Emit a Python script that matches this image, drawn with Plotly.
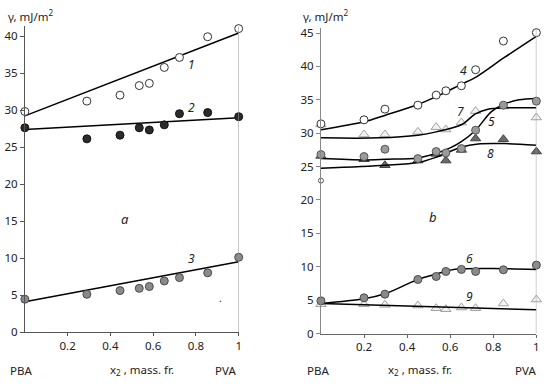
import plotly.graph_objects as go

# ---------------- data: panel a ----------------
xa = [0, 0.29, 0.445, 0.535, 0.582, 0.652, 0.723, 0.855, 1]
s1 = [29.8, 31.2, 32.0, 33.3, 33.6, 35.75, 37.1, 39.9, 41.0]
s2 = [27.6, 26.1, 26.6, 27.6, 27.3, 28.0, 29.5, 29.65, 29.1]
s3 = [4.43, 5.1, 5.6, 5.9, 6.15, 6.9, 7.35, 8.0, 10.1]
line_x = [0, 1]
line1 = [29.2, 40.4]
line2 = [27.35, 28.95]
line3 = [4.1, 9.5]

# ---------------- data: panel b ----------------
xb = [0, 0.2, 0.297, 0.45, 0.535, 0.58, 0.652, 0.718, 0.847, 1]
s4 = [31.4, 32.0, 33.6, 34.2, 35.7, 36.35, 37.1, 39.5, 43.8, 45.05]
s5 = [26.8, 26.5, 27.6, 26.2, 27.25, 27.05, 27.7, 30.45, 34.2, 34.8]
s6 = [4.9, 5.35, 5.9, 8.1, 8.55, 9.3, 9.6, 9.3, 9.55, 10.25]
s7 = [31.3, 29.8, 29.8, 30.2, 30.9, 30.55, 31.6, 33.3, 34.0, 32.35]
s8 = [26.6, 26.1, 25.2, 25.9, 26.9, 25.9, 27.5, 29.2, 29.1, 27.25]
s9 = [4.4, 4.4, 4.3, 4.2, 3.8, 3.65, 3.9, 3.8, 4.5, 5.1]
extra_x = [0]
extra_y = [22.9]

c4_x = [0, 0.2, 0.3, 0.45, 0.55, 0.65, 0.72, 0.85, 1]
c4_y = [30.5, 31.7, 32.7, 34.3, 35.7, 37.3, 38.4, 41.3, 44.5]
c5_x = [0, 0.2, 0.3, 0.45, 0.535, 0.6, 0.65, 0.717, 0.79, 0.847, 0.92, 1]
c5_y = [26.2, 26.0, 26.1, 26.3, 27.0, 27.8, 28.7, 30.4, 33.2, 34.3, 35.0, 35.2]
c6_x = [0, 0.2, 0.3, 0.4, 0.45, 0.535, 0.6, 0.65, 0.8, 1]
c6_y = [4.5, 5.2, 6.0, 7.4, 8.1, 8.9, 9.5, 9.7, 9.75, 9.6]
c7_x = [0, 0.27, 0.45, 0.535, 0.654, 0.717, 0.775, 0.85, 1]
c7_y = [29.3, 29.3, 29.7, 30.2, 31.3, 32.9, 33.6, 33.8, 33.8]
c8_x = [0, 0.3, 0.45, 0.535, 0.65, 0.73, 0.85, 1]
c8_y = [24.75, 25.2, 25.6, 26.4, 27.9, 28.4, 28.45, 28.2]
c9_x = [0, 1]
c9_y = [4.5, 3.55]

xtick_vals = [0.2, 0.4, 0.6, 0.8, 1]
xtick_text = ["0.2", "0.4", "0.6", "0.8", "1"]
ya_ticks = [0, 5, 10, 15, 20, 25, 30, 35, 40]
yb_ticks = [0, 5, 10, 15, 20, 25, 30, 35, 40, 45]

W, H = 550, 389
FONT = "Noto Sans"
TXT = "#222222"

def px(v, tot):
    return v / tot

fig = go.Figure()

def line(x, y, xa_, ya_, spline=False):
    fig.add_trace(go.Scatter(x=x, y=y, mode="lines", xaxis=xa_, yaxis=ya_,
                             line=dict(color="black", width=1.5,
                                       shape="spline" if spline else "linear",
                                       smoothing=0.9),
                             hoverinfo="skip", showlegend=False, cliponaxis=False))

def pts(x, y, xa_, ya_, symbol, fill, edge, size):
    fig.add_trace(go.Scatter(x=x, y=y, mode="markers", xaxis=xa_, yaxis=ya_,
                             marker=dict(symbol=symbol, color=fill, size=size,
                                         line=dict(color=edge, width=1)),
                             showlegend=False, cliponaxis=False))

# panel a
line(line_x, line1, "x", "y")
line(line_x, line2, "x", "y")
line(line_x, line3, "x", "y")
pts(xa, s1, "x", "y", "circle", "white", "#333333", 8)
pts(xa, s2, "x", "y", "circle", "#2b2b2b", "#111111", 8)
pts(xa, s3, "x", "y", "circle", "#8a8a8a", "#4a4a4a", 8)

# panel b
pts(xb, s8, "x2", "y2", "triangle-up", "#6a6a6a", "#444444", 9)
pts(xb, s7, "x2", "y2", "triangle-up", "#f2f2f2", "#a0a0a0", 9)
pts(xb, s9, "x2", "y2", "triangle-up", "#f2f2f2", "#a0a0a0", 9)
line(c4_x, c4_y, "x2", "y2", True)
line(c5_x, c5_y, "x2", "y2", True)
line(c6_x, c6_y, "x2", "y2", True)
line(c7_x, c7_y, "x2", "y2", True)
line(c8_x, c8_y, "x2", "y2", True)
line(c9_x, c9_y, "x2", "y2")
pts(xb, s4, "x2", "y2", "circle", "white", "#333333", 8)
pts(xb, s5, "x2", "y2", "circle", "#9a9a9a", "#555555", 8)
pts(xb, s6, "x2", "y2", "circle", "#8a8a8a", "#4a4a4a", 8)
pts(extra_x, extra_y, "x2", "y2", "circle", "white", "#555555", 5)

tickfont = dict(family=FONT, size=11.5, color=TXT)

def xax(dom, linecol):
    return dict(domain=dom, range=[0, 1], tickvals=xtick_vals, ticktext=xtick_text,
                showgrid=False, zeroline=False, showline=True, linecolor=linecol,
                linewidth=1, ticks="outside", ticklen=3, tickcolor=linecol,
                tickfont=tickfont, fixedrange=True)

def yax(dom, rng, tv, linecol, anchor):
    return dict(domain=dom, range=rng, tickvals=tv, showgrid=False, zeroline=False,
                showline=True, linecolor=linecol, linewidth=1, ticks="outside",
                ticklen=4, tickcolor=linecol, tickfont=tickfont, anchor=anchor,
                fixedrange=True)

ya_dom = [1 - 337.7 / H, 1 - 24 / H]
yb_dom = [1 - 339.3 / H, 1 - 26 / H]

fig.update_layout(
    width=W, height=H, margin=dict(l=0, r=0, t=0, b=0),
    paper_bgcolor="white", plot_bgcolor="white",
    xaxis=dict(xax([px(25, W), px(240, W)], "#555555"), anchor="y"),
    yaxis=yax(ya_dom, [0, 41.3], ya_ticks, "#555555", "x"),
    xaxis2=dict(xax([px(322.7, W), px(539.3, W)], "#666666"), anchor="y2"),
    yaxis2=yax(yb_dom, [0, 45.7], yb_ticks, "#888888", "x2"),
    font=dict(family=FONT, color=TXT),
)

# right-edge vertical lines at x = 1
for xr, yr in (("x", "y domain"), ("x2", "y2 domain")):
    fig.add_shape(type="line", xref=xr, yref=yr, x0=1, x1=1, y0=0, y1=1,
                  line=dict(color="#999999", width=1))

ann = []
def note(text, x, y, xref, yref, size=12, italic=True, xanchor="center"):
    ann.append(dict(text=f"<i>{text}</i>" if italic else text, x=x, y=y, xref=xref,
                    yref=yref, showarrow=False, xanchor=xanchor, yanchor="middle",
                    font=dict(family=FONT, size=size, color=TXT)))

# curve labels, panel a
note("1", 0.78, 36.2, "x", "y")
note("2", 0.78, 30.4, "x", "y")
note("3", 0.78, 10.0, "x", "y")
note("a", 0.47, 15.3, "x", "y", 13)
note(".", 0.915, 4.6, "x", "y", 10, False)
# curve labels, panel b
note("4", 0.66, 39.4, "x2", "y2")
note("7", 0.65, 33.3, "x2", "y2")
note("5", 0.79, 31.8, "x2", "y2")
note("8", 0.785, 27.0, "x2", "y2")
note("b", 0.52, 17.4, "x2", "y2", 13)
note("6", 0.69, 11.3, "x2", "y2")
note("9", 0.69, 5.6, "x2", "y2")

# axis titles
yt = 1 - 13 / H
note("γ, mJ/m<sup>2</sup>", px(6, W), yt, "paper", "paper", 11.5, False, "left")
note("γ, mJ/m<sup>2</sup>", px(303, W), yt, "paper", "paper", 11.5, False, "left")

yb = 1 - 377 / H
for left, mid, right in ((21, 143, 227), (320, 422, 528)):
    note("PBA", px(left, W), yb, "paper", "paper", 11.5, False)
    note("x<sub>2</sub> , mass. fr.", px(mid, W), yb, "paper", "paper", 11.5, False)
    note("PVA", px(right, W), yb, "paper", "paper", 11.5, False)

fig.update_layout(annotations=ann)
fig.write_html("out.html", config={"displayModeBar": False},
               post_script="document.body.style.margin='0';"
                           "document.body.style.overflow='hidden';")
